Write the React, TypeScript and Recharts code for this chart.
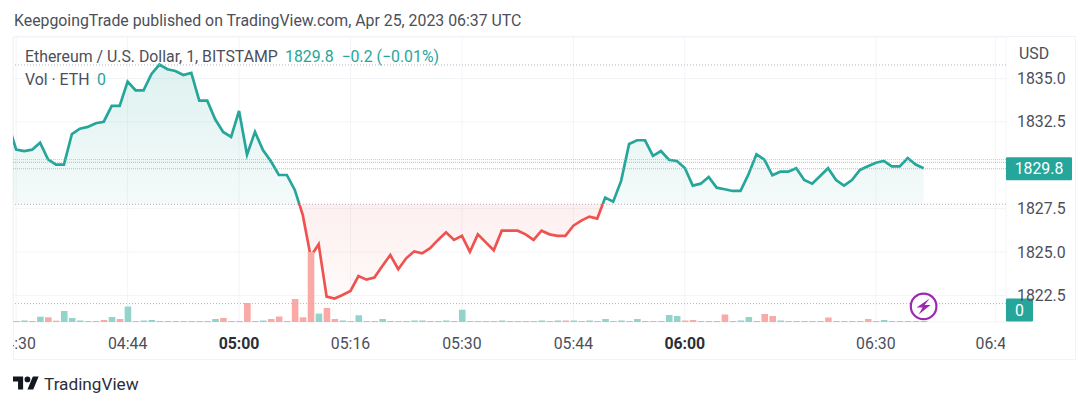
import { Area, Bar, CartesianGrid, Cell, ComposedChart, ReferenceDot, ReferenceLine, XAxis, YAxis } from 'recharts';

const TEAL = '#26a69a';
const RED = '#ef5350';
const TEXT = '#4c4f5a';
const FONT = 'Roboto, sans-serif';
const FONT_SIZE = 15.85;

// one row per 10 one-minute bars (some minutes have no bar)
const prices = [
  1832.38,
  1830.9, 1830.82, 1830.9, 1831.3, 1830.34, 1830.04, 1830.04, 1831.8, 1832.11, 1832.21,
  1832.42, 1832.51, 1833.42, 1833.42, 1834.82, 1834.32, 1834.32, 1835.26, 1835.8, 1835.53,
  1835.43, 1835.2, 1835.32, 1833.72, 1833.72, 1832.65, 1831.92, 1831.63, 1833.13, 1830.61,
  1831.92, 1830.88, 1830.23, 1829.44, 1829.44, 1828.58, 1827.14, 1824.74, 1825.45, 1822.43,
  1822.32, 1822.53, 1822.76, 1823.62, 1823.41, 1823.53, 1824.2, 1824.83, 1824.01, 1824.64,
  1825.04, 1824.93, 1825.22, 1825.7, 1826.14, 1825.7, 1825.93, 1825.01, 1826.02, 1825.56,
  1825.1, 1826.23, 1826.23, 1826.23, 1826.02, 1825.7, 1826.23, 1826.02, 1825.93, 1825.93,
  1826.52, 1826.81, 1827.04, 1826.93, 1828.14, 1827.9, 1829.1, 1831.23, 1831.44, 1831.44,
  1830.54, 1830.82, 1830.32, 1830.25, 1829.84, 1828.83, 1828.94, 1829.33, 1828.71, 1828.62,
  1828.52, 1828.52, 1829.48, 1830.63, 1830.32, 1829.42, 1829.63, 1829.63, 1829.83, 1829.15,
  1828.94, 1829.38, 1829.83, 1829.15, 1828.83, 1829.15, 1829.73, 1829.94, 1830.15, 1830.25,
  1829.94, 1829.94, 1830.42, 1830.04, 1829.83,
];

const volumes = [
  1,
  1, 1.5, 1, 5.3, 4.7, 1.3, 11, 4, 1.5, 1,
  1, 2, 5, 3, 15.5, 1, 1.5, 2, 1, 1,
  1, 1, 1, 1, 1, 3, 4, 1, 1, 19,
  1, 1.5, 3, 5.5, 1, 23, 4.7, 70, 8.4, 14,
  3, 1.5, 1, 6.7, 1, 1, 3, 1, 1, 1,
  1.5, 1.5, 1, 1, 1.5, 1, 12.3, 1, 1, 1,
  1, 1.5, 1, 1, 1, 1, 1.5, 1, 1.5, 1.5,
  1.5, 1, 1.5, 1, 3, 1, 1.5, 1, 3, 1,
  1, 1, 7, 6, 1.5, 2, 1, 1, 1, 7.5,
  1, 1.5, 5, 1, 8, 6, 1.5, 1, 1, 1,
  1, 1, 4.5, 1, 1, 1, 1, 3, 1, 2,
  1, 1, 1, 1, 1,
];

// positions of the bars that closed down
const downBars = [
  5, 6, 12, 14, 16, 22, 27, 30, 33, 34, 36, 37, 38, 40, 41, 43, 45, 49, 58, 68, 70, 72, 74, 76, 81,
  85, 86, 90, 95, 96, 103, 105, 106, 108, 109, 111,
];

const timeTicks = [1, 15, 29, 43, 57, 71, 85, 109, 124];
const timeLabels = ['04:30', '04:44', '05:00', '05:16', '05:30', '05:44', '06:00', '06:30', '06:45'];
const boldLabels = ['05:00', '06:00'];
const priceTicks = [1822.5, 1825, 1827.5, 1832.5, 1835];

const BASE_PRICE = 1827.75;
const LAST_PRICE = 1829.8;
const LAST_VOLUME = 0;
const dottedGrey = [1835.78, BASE_PRICE, 1822.03];

const rows = prices.map((price, i) => ({ index: i, price, volume: volumes[i] }));
const top = Math.max(...prices);
const bottom = Math.min(...prices);
const split = (top - BASE_PRICE) / (top - bottom);

function TimeTick({ x, y, payload }: any) {
  const label = timeLabels[timeTicks.indexOf(payload.value)];
  return (
    <text
      x={x}
      y={y + 19}
      textAnchor="middle"
      clipPath="url(#timeClip)"
      fontFamily={FONT}
      fontSize={FONT_SIZE}
      fontWeight={boldLabels.includes(label) ? 700 : 400}
      fill={boldLabels.includes(label) ? '#2a2e39' : TEXT}
    >
      {label}
    </text>
  );
}

function PriceTick({ x, y, payload }: any) {
  return (
    <text x={x + 3} y={y + 5.5} fontFamily={FONT} fontSize={FONT_SIZE} fill={TEXT}>
      {payload.value.toFixed(1)}
    </text>
  );
}

function Badge({ cx, cy, text, width }: any) {
  return (
    <g>
      <rect x={cx} y={cy - 11.5} width={width} height={23} rx={1} fill={TEAL} />
      <text x={cx + width / 2} y={cy + 5.5} textAnchor="middle" fontFamily={FONT} fontSize={FONT_SIZE} fill="#fff">
        {text}
      </text>
    </g>
  );
}

function BoltMark({ cx, cy }: any) {
  return (
    <g>
      <circle cx={cx} cy={cy} r={12.8} fill="#fff" stroke="#9c27b0" strokeWidth={2.2} />
      <path
        d={`M${cx + 6} ${cy - 8}L${cx - 7} ${cy + 1}L${cx - 1} ${cy + 1}L${cx - 5} ${cy + 8}L${cx + 7} ${cy - 1.5}L${cx + 1} ${cy - 1.5}Z`}
        fill="#9c27b0"
      />
    </g>
  );
}

const label = (left: number, y: number, text: string, color = TEXT) => (
  <div
    style={{
      position: 'absolute',
      left,
      top: y,
      fontFamily: FONT,
      fontSize: FONT_SIZE,
      lineHeight: '20px',
      color,
      whiteSpace: 'pre',
    }}
  >
    {text}
  </div>
);

export default function App() {
  return (
    <div style={{ position: 'absolute', left: 0, top: 0, width: 1090, height: 407, background: '#fff', overflow: 'hidden' }}>
      <div
        style={{
          position: 'absolute',
          left: 13,
          top: 36,
          width: 1063,
          height: 324,
          boxSizing: 'border-box',
          border: '1.5px solid #f0f3fa',
        }}
      />
      <ComposedChart
        width={1090}
        height={407}
        data={rows}
        margin={{ top: 37, right: 0, bottom: 55, left: 13 }}
        style={{ position: 'absolute', left: 0, top: 0 }}
      >
        <defs>
          <linearGradient id="baselineStroke" x1="0" y1="0" x2="0" y2="1">
            <stop offset={split} stopColor={TEAL} />
            <stop offset={split} stopColor={RED} />
          </linearGradient>
          <linearGradient id="baselineFill" x1="0" y1="0" x2="0" y2="1">
            <stop offset={0} stopColor={TEAL} stopOpacity={0.15} />
            <stop offset={split} stopColor={TEAL} stopOpacity={0.05} />
            <stop offset={split} stopColor={RED} stopOpacity={0.09} />
            <stop offset={1} stopColor={RED} stopOpacity={0.03} />
          </linearGradient>
          <clipPath id="timeClip">
            <rect x={13} y={322} width={992} height={38} />
          </clipPath>
        </defs>
        <CartesianGrid stroke="#f3f4f7" strokeWidth={1} />
        <XAxis
          dataKey="index"
          type="number"
          domain={[0.6, 125.35]}
          allowDataOverflow
          ticks={timeTicks}
          interval={0}
          height={30}
          axisLine={false}
          tickLine={false}
          tick={<TimeTick />}
        />
        <YAxis
          orientation="right"
          width={84}
          domain={[1820.97, 1837.39]}
          allowDataOverflow
          ticks={priceTicks}
          interval={0}
          axisLine={false}
          tickLine={false}
          tick={<PriceTick />}
        />
        <YAxis yAxisId="vol" hide domain={[0, 285]} />
        {dottedGrey.map((value) => (
          <ReferenceLine key={value} y={value} stroke="#b2b5be" strokeDasharray="1 2" />
        ))}
        <ReferenceLine y={1830.33} stroke="#f28e8e" strokeOpacity={0.6} strokeDasharray="1 1" />
        <ReferenceLine y={1830.17} stroke="#6f8ff0" strokeOpacity={0.6} strokeDasharray="1 1" />
        <ReferenceLine y={LAST_PRICE} stroke="#5cc4b8" strokeOpacity={0.7} strokeDasharray="1 1" />
        <Bar yAxisId="vol" dataKey="volume" barSize={6.6} isAnimationActive={false}>
          {rows.map((row) => (
            <Cell key={row.index} fill={downBars.includes(row.index) ? '#f9a9a6' : '#92d3cc'} />
          ))}
        </Bar>
        <Area
          dataKey="price"
          type="linear"
          baseValue={BASE_PRICE}
          stroke="url(#baselineStroke)"
          strokeWidth={2.7}
          fill="url(#baselineFill)"
          fillOpacity={1}
          dot={false}
          activeDot={false}
          isAnimationActive={false}
        />
        <ReferenceDot x={115} y={1821.87} ifOverflow="visible" shape={(p: any) => <BoltMark {...p} />} />
        <ReferenceDot
          x={125.35}
          y={LAST_PRICE}
          ifOverflow="visible"
          shape={(p: any) => <Badge {...p} text={LAST_PRICE.toFixed(1)} width={66} />}
        />
        <ReferenceDot
          x={125.35}
          y={1821.66}
          ifOverflow="visible"
          shape={(p: any) => <Badge {...p} text={String(LAST_VOLUME)} width={27} />}
        />
      </ComposedChart>
      {label(14, 11, 'KeepgoingTrade published on TradingView.com, Apr 25, 2023 06:37 UTC')}
      {label(25, 47, 'Ethereum / U.S. Dollar, 1, BITSTAMP')}
      {label(285, 47, '1829.8  \u22120.2 (\u22120.01%)', TEAL)}
      {label(25, 70, 'Vol \u00b7 ETH')}
      {label(97, 70, '0', TEAL)}
      {label(1019, 44, 'USD')}
      <svg style={{ position: 'absolute', left: 13, top: 376 }} width={26} height={14} viewBox="0 4 36 18">
        <path d="M14 22H7V11H0V4h14v18zM28 22h-8l7.5-18h8L28 22z" fill="#131722" />
        <circle cx={20} cy={8} r={4} fill="#131722" />
      </svg>
      <div
        style={{
          position: 'absolute',
          left: 44,
          top: 374,
          fontFamily: FONT,
          fontSize: 17.2,
          lineHeight: '20px',
          color: '#2a2e39',
        }}
      >
        TradingView
      </div>
    </div>
  );
}
